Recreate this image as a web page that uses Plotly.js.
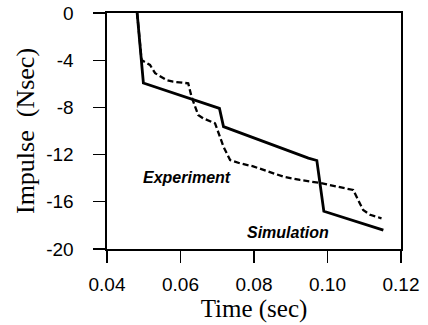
<!DOCTYPE html>
<html>
<head>
<meta charset="utf-8">
<script src="https://cdn.plot.ly/plotly-3.0.1.min.js"></script>
<style>html,body{margin:0;padding:0;background:#fff;}#chart{width:428px;height:325px;}</style>
</head>
<body>
<div id="chart"></div>
<script>
const simTime = [0.0482, 0.0499, 0.0706, 0.0717, 0.0948, 0.0971, 0.0990, 0.1152];
const simImpulse = [0, -5.93, -8.08, -9.63, -12.3, -12.5, -16.8, -18.4];

const expTime = [0.0482, 0.0494, 0.0517, 0.0531, 0.0562, 0.0580, 0.0621, 0.0630, 0.0648, 0.0662, 0.0694, 0.0703, 0.0717, 0.0735, 0.0762, 0.0798, 0.0880, 0.0925, 0.0980, 0.1070, 0.1097, 0.1116, 0.1147];
const expImpulse = [0, -3.98, -4.4, -5.1, -5.68, -5.82, -5.96, -7.09, -8.64, -8.93, -9.35, -10.2, -11.33, -12.46, -12.74, -13.0, -13.87, -14.15, -14.4, -15.0, -16.7, -17.1, -17.4];

const xTickVals = [0.04, 0.06, 0.08, 0.10, 0.12];
const xTickText = ["0.04", "0.06", "0.08", "0.10", "0.12"];
const yTickVals = [0, -4, -8, -12, -16, -20];
const yTickText = ["0", "-4", "-8", "-12", "-16", "-20"];

const labels = ["Experiment", "Simulation"];
const labelX = [0.0618, 0.0893];
const labelY = [-13.98, -18.64];

const traces = [
  {x: simTime, y: simImpulse, mode: 'lines', line: {color: '#000', width: 2.8}, name: 'Simulation'},
  {x: expTime, y: expImpulse, mode: 'lines', line: {color: '#000', width: 2.3, dash: '6px,3px'}, name: 'Experiment'}
];

const layout = {
  width: 428, height: 325,
  margin: {l: 107, r: 27, t: 13, b: 76},
  showlegend: false,
  paper_bgcolor: '#fff', plot_bgcolor: '#fff',
  xaxis: {
    range: [0.04, 0.12], tickmode: 'array', tickvals: xTickVals, ticktext: xTickText,
    showgrid: false, zeroline: false, showline: true, mirror: true,
    linecolor: '#000', linewidth: 1.6, ticks: 'outside', ticklen: 12, tickwidth: 1.3, tickcolor: '#000',
    ticklabelstandoff: 6,
    tickfont: {family: 'Liberation Sans, Arial', size: 19, color: '#000'},
    title: {text: 'Time (sec)', font: {family: 'Liberation Serif, Times New Roman', size: 25, color: '#000'}, standoff: 0}
  },
  yaxis: {
    range: [-20, 0], tickmode: 'array', tickvals: yTickVals, ticktext: yTickText,
    showgrid: false, zeroline: false, showline: true, mirror: true,
    linecolor: '#000', linewidth: 1.6, ticks: 'outside', ticklen: 12, tickwidth: 1.3, tickcolor: '#000',
    ticklabelstandoff: 16,
    tickfont: {family: 'Liberation Sans, Arial', size: 19, color: '#000'},
    title: {text: 'Impulse  (Nsec)', font: {family: 'Liberation Serif, Times New Roman', size: 26, color: '#000'}, standoff: 4}
  },
  annotations: labels.map((t, i) => ({
    x: labelX[i], y: labelY[i], xref: 'x', yref: 'y', text: '<b><i>' + t + '</i></b>',
    showarrow: false, font: {family: 'Liberation Sans, Arial', size: 16, color: '#000'}
  }))
};

Plotly.newPlot('chart', traces, layout, {displayModeBar: false, staticPlot: true});
</script>
</body>
</html>
